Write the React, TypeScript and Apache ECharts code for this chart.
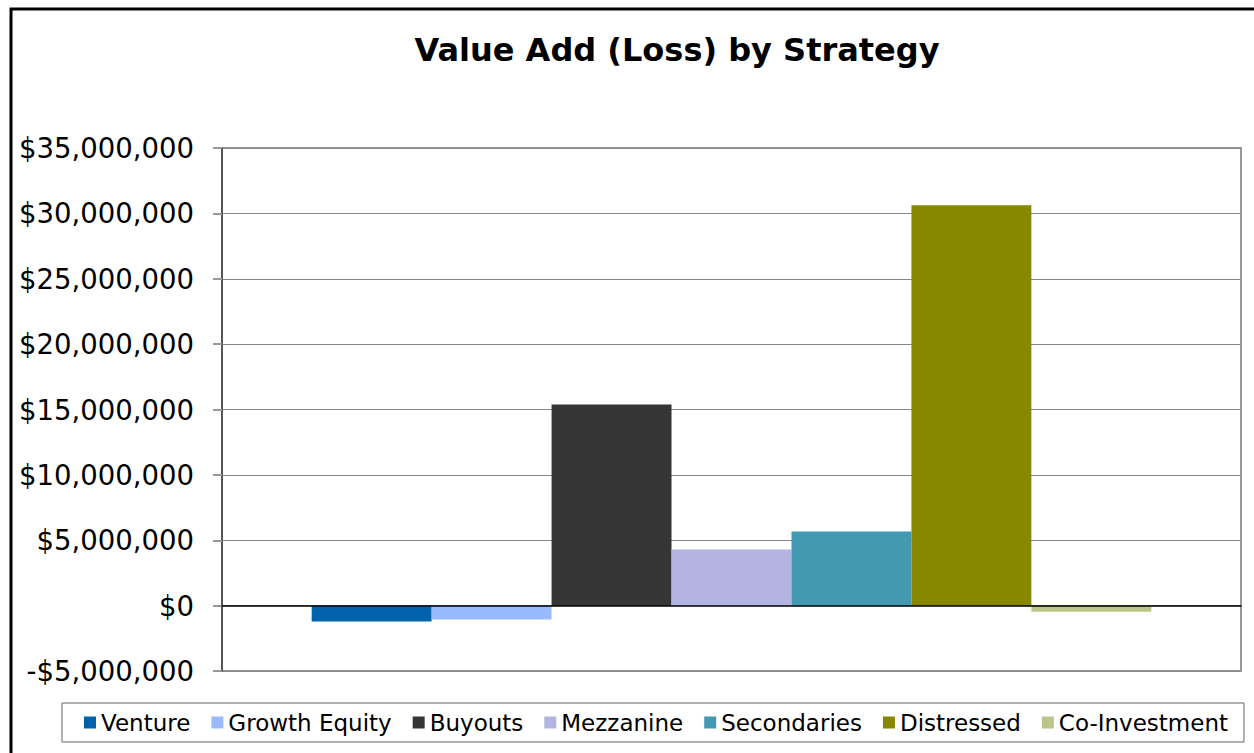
import React, { useEffect, useRef } from "react";
import * as echarts from "echarts";

const strategies = ["Venture", "Growth Equity", "Buyouts", "Mezzanine", "Secondaries", "Distressed", "Co-Investment"];
const values = [-1220000, -1070000, 15390000, 4290000, 5670000, 30630000, -460000];
const colors = ["#0062AC", "#99BBFD", "#363636", "#B4B4E2", "#4399B1", "#888800", "#BCC589"];
const yTicks = { min: -5000000, max: 35000000, interval: 5000000 };
const FONT = "Verdana, 'DejaVu Sans', sans-serif";

function fmt(v: number): string {
  const s = "$" + Math.abs(v).toLocaleString("en-US");
  return v < 0 ? "-" + s : s;
}

export default function App() {
  const ref = useRef<HTMLDivElement>(null);
  useEffect(() => {
    if (!ref.current) return;
    const chart = echarts.init(ref.current, null, { renderer: "svg" });
    chart.setOption({
      animation: false,
      backgroundColor: "#fff",
      graphic: [
        {
          type: "rect",
          silent: true,
          shape: { x: 11, y: 9, width: 1400, height: 900 },
          style: { fill: "none", stroke: "#000", lineWidth: 3 },
        },
        {
          type: "text",
          silent: true,
          style: {
            text: "Value Add (Loss) by Strategy",
            x: 677,
            y: 50,
            align: "center",
            verticalAlign: "middle",
            fontFamily: FONT,
            fontWeight: "bold",
            fontSize: 32,
            fill: "#000",
          },
        },
      ],
      grid: {
        left: 222,
        right: 13,
        top: 148,
        bottom: 82,
        show: true,
        borderColor: "#999",
        borderWidth: 2,
        backgroundColor: "transparent",
      },
      legend: {
        bottom: 11,
        left: 62,
        data: strategies,
        icon: "rect",
        itemWidth: 12,
        itemHeight: 12,
        itemGap: 21,
        padding: [8, 16, 8, 22],
        borderColor: "#666",
        borderWidth: 1,
        textStyle: { fontFamily: FONT, fontSize: 23, color: "#000" },
      },
      xAxis: {
        type: "category",
        data: [""],
        axisLine: { onZero: true, lineStyle: { color: "#000", width: 1.5 } },
        axisTick: { show: false },
        axisLabel: { show: false },
        z: 10,
      },
      yAxis: {
        type: "value",
        min: yTicks.min,
        max: yTicks.max,
        interval: yTicks.interval,
        axisLine: { show: true, lineStyle: { color: "#555", width: 2 } },
        axisTick: { show: true, length: 9, lineStyle: { color: "#999", width: 2 } },
        splitLine: { lineStyle: { color: "#888", width: 1 } },
        axisLabel: {
          formatter: (v: number) => fmt(v),
          fontFamily: FONT,
          fontSize: 27.5,
          color: "#000",
          margin: 28,
        },
      },
      series: strategies.map((name, i) => ({
        name,
        type: "bar",
        data: [values[i]],
        barGap: "0%",
        barCategoryGap: "17.6%",
        itemStyle: { color: colors[i] },
      })),
    });
    return () => chart.dispose();
  }, []);
  return (
    <div
      ref={ref}
      style={{ position: "fixed", left: 0, top: 0, width: 1254, height: 753 }}
    />
  );
}
